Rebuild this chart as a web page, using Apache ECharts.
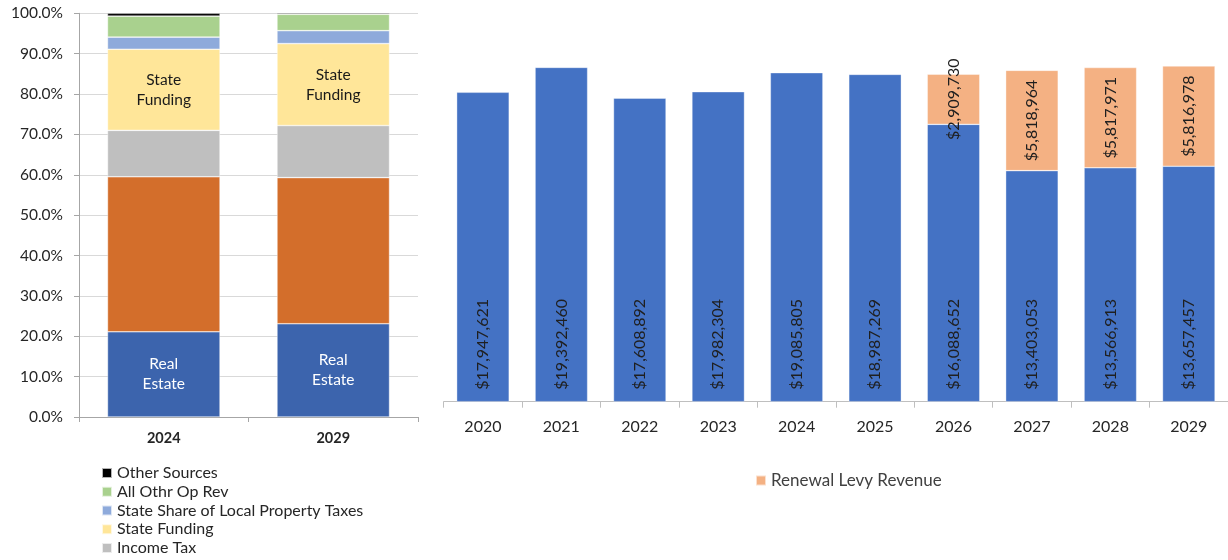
<!DOCTYPE html>
<html>
<head>
<meta charset="utf-8">
<script src="https://cdn.jsdelivr.net/npm/echarts@6/dist/echarts.min.js"></script>
<style>
html,body{margin:0;padding:0;background:#fff;}
#chart{width:1228px;height:560px;}
</style>
</head>
<body>
<div id="chart"></div>
<script>
// ---- Left chart: revenue mix (100% stacked) ----
const mixCategories = ['2024', '2029'];
const realEstate = [21.1, 23.1];
const localTax = [38.4, 36.2];
const incomeTax = [11.5, 12.9];
const stateFunding = [20.1, 20.3];
const stateShare = [3.0, 3.2];
const allOthrOpRev = [5.2, 4.05];
const otherSources = [0.7, 0.25];
const pctTicks = [0, 10, 20, 30, 40, 50, 60, 70, 80, 90, 100];

// ---- Right chart: revenue by year ----
const years = ['2020', '2021', '2022', '2023', '2024', '2025', '2026', '2027', '2028', '2029'];
const baseRevenue = [17947621, 19392460, 17608892, 17982304, 19085805, 18987269, 16088652, 13403053, 13566913, 13657457];
const renewalLevy = [null, null, null, null, null, null, 2909730, 5818964, 5817971, 5816978];

const FONT = 'Lato';
const money = v => '$' + Math.round(v).toLocaleString('en-US');

const chart = echarts.init(document.getElementById('chart'));

function mixSeries(name, data, color, label) {
  const s = {
    name: name, type: 'bar', stack: 'mix', xAxisIndex: 0, yAxisIndex: 0,
    data: data, barCategoryGap: '33.6%',
    itemStyle: { color: color, borderColor: 'rgba(255,255,255,0.7)', borderWidth: 0.6 },
    emphasis: { disabled: true }
  };
  if (label) s.label = label;
  return s;
}

const option = {
  animation: false,
  textStyle: { fontFamily: FONT },
  grid: [
    { left: 79, top: 13.3, width: 339, height: 403.7, containLabel: false },
    { left: 443.7, top: 5.2, width: 786, height: 396.5, containLabel: false }
  ],
  legend: [
    {
      orient: 'vertical', left: 96, top: 460, height: 200,
      itemWidth: 10, itemHeight: 10, itemGap: 2.75, icon: 'rect',
      textStyle: { fontFamily: FONT, fontSize: 16, color: '#262626', lineHeight: 16 },
      data: ['Other Sources', 'All Othr Op Rev', 'State Share of Local Property Taxes', 'State Funding', 'Income Tax']
    },
    {
      left: 750, top: 467, itemWidth: 10, itemHeight: 10, icon: 'rect',
      textStyle: { fontFamily: FONT, fontSize: 17, color: '#404040' },
      data: ['Renewal Levy Revenue']
    }
  ],
  xAxis: [
    {
      type: 'category', gridIndex: 0, data: mixCategories,
      axisLine: { lineStyle: { color: '#a6a6a6' } },
      axisTick: { show: true, length: 5, lineStyle: { color: '#a6a6a6' } },
      axisLabel: { fontFamily: FONT, fontSize: 14.5, fontWeight: 'bold', color: '#262626', margin: 14 }
    },
    {
      type: 'category', gridIndex: 1, data: years,
      axisLine: { lineStyle: { color: '#bfbfbf' } },
      axisTick: { show: true, length: 6, lineStyle: { color: '#bfbfbf' } },
      axisLabel: { fontFamily: FONT, fontSize: 16, color: '#262626', margin: 17 }
    }
  ],
  yAxis: [
    {
      type: 'value', gridIndex: 0, min: 0, max: 100, interval: 10,
      axisLine: { show: true, lineStyle: { color: '#a6a6a6' } },
      axisTick: { show: true, length: 5, lineStyle: { color: '#a6a6a6' } },
      splitLine: { show: true, lineStyle: { color: '#d9d9d9' } },
      axisLabel: { fontFamily: FONT, fontSize: 15.5, color: '#262626', margin: 16,
        formatter: v => pctTicks.includes(v) ? v.toFixed(1) + '%' : '' }
    },
    {
      type: 'value', gridIndex: 1, min: 0, max: 23000000,
      show: false, splitLine: { show: false }
    }
  ],
  series: [
    mixSeries('Real Estate', realEstate, '#3c64ad', {
      show: true, position: 'inside', formatter: 'Real\nEstate',
      color: '#fff', fontFamily: FONT, fontSize: 15.5, lineHeight: 20
    }),
    mixSeries('Local Property Taxes', localTax, '#d36e2b'),
    mixSeries('Income Tax', incomeTax, '#bfbfbf'),
    mixSeries('State Funding', stateFunding, '#ffe699', {
      show: true, position: 'inside', formatter: 'State\nFunding',
      color: '#1a1a1a', fontFamily: FONT, fontSize: 15.5, lineHeight: 20
    }),
    mixSeries('State Share of Local Property Taxes', stateShare, '#8eaadb'),
    mixSeries('All Othr Op Rev', allOthrOpRev, '#a9d18e'),
    mixSeries('Other Sources', otherSources, '#000000'),
    {
      name: 'Base Revenue', type: 'bar', stack: 'rev', xAxisIndex: 1, yAxisIndex: 1,
      data: baseRevenue, barCategoryGap: '33%',
      itemStyle: { color: '#4472c4', borderColor: 'rgba(255,255,255,0.6)', borderWidth: 0.6 },
      emphasis: { disabled: true },
      label: {
        show: true, position: 'insideBottom', rotate: 90, align: 'left', verticalAlign: 'middle',
        distance: 12, fontFamily: FONT, fontSize: 16, color: '#1f1f1f',
        formatter: p => money(p.value)
      }
    },
    {
      name: 'Renewal Levy Revenue', type: 'bar', stack: 'rev', xAxisIndex: 1, yAxisIndex: 1,
      data: renewalLevy, barCategoryGap: '33%',
      itemStyle: { color: '#f4b183', borderColor: 'rgba(255,255,255,0.6)', borderWidth: 0.6 },
      emphasis: { disabled: true },
      label: {
        show: true, position: 'inside', rotate: 90, align: 'center', verticalAlign: 'middle',
        fontFamily: FONT, fontSize: 16, color: '#1f1f1f',
        formatter: p => p.value == null ? '' : money(p.value)
      }
    }
  ]
};
chart.setOption(option);
</script>
</body>
</html>
